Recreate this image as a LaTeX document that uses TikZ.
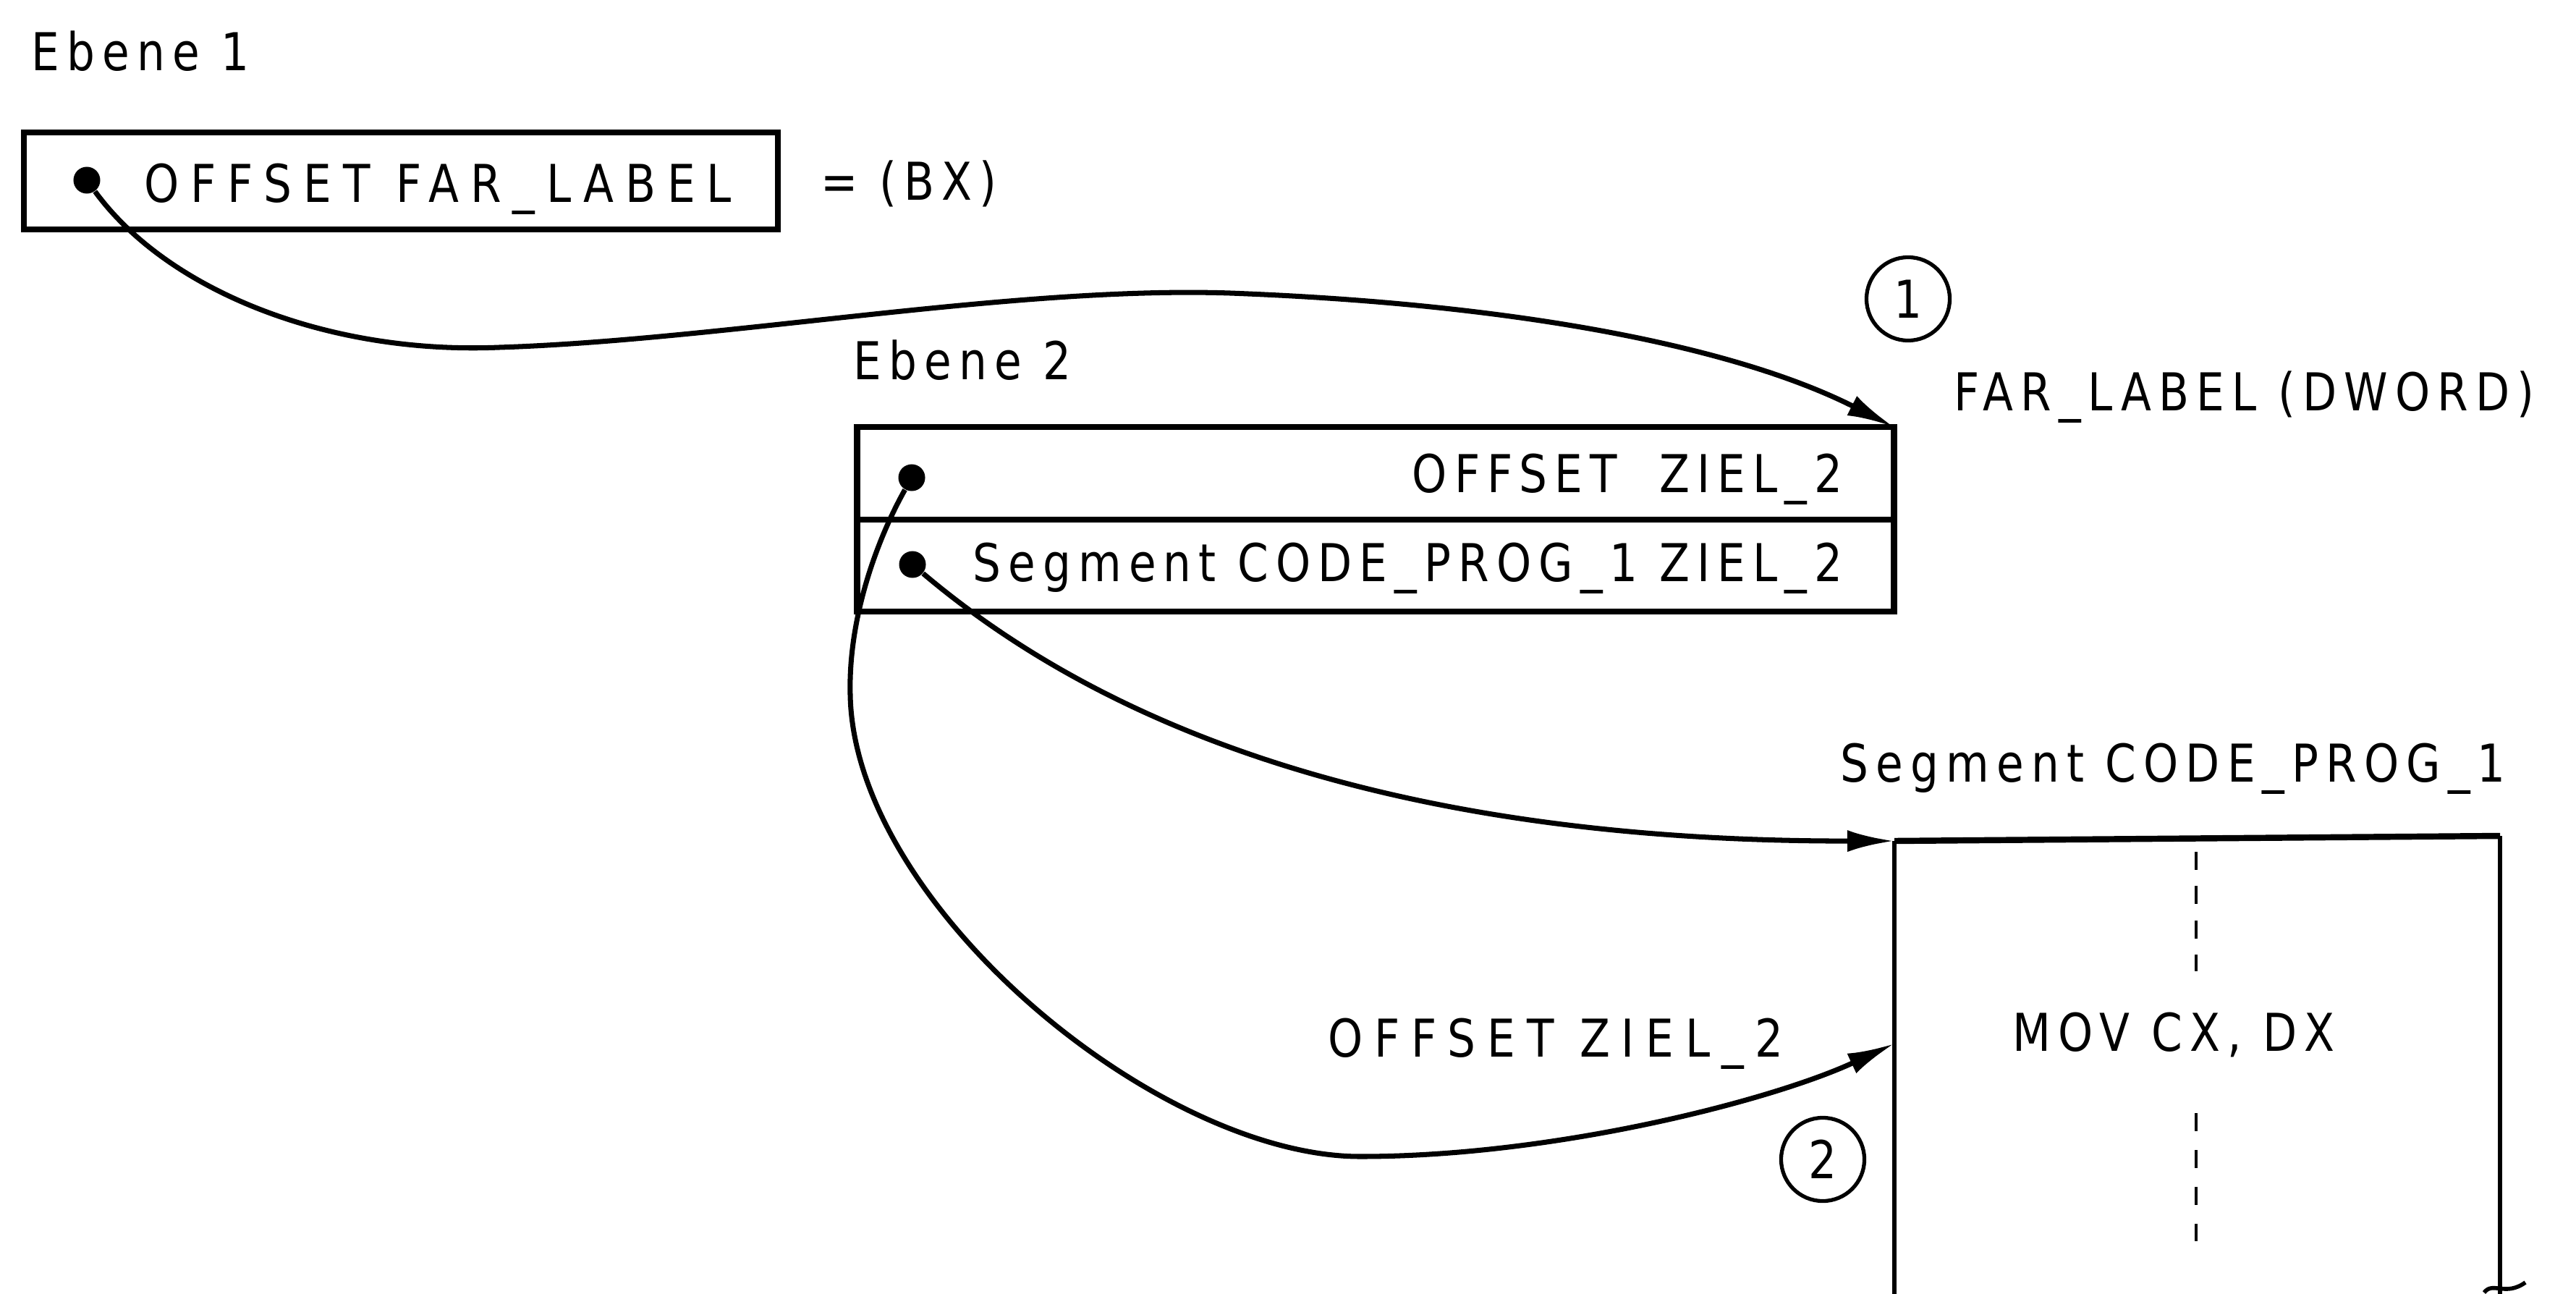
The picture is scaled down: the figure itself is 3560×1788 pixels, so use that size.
\documentclass[tikz,border=0pt]{standalone}
\usepackage{fontspec}
\setmainfont{DejaVu Sans}[FakeStretch=0.85, LetterSpace=14]
\newfontfamily\widefont{DejaVu Sans}[FakeStretch=0.85, LetterSpace=22]
\usetikzlibrary{arrows.meta, positioning, shapes}

\begin{document}
\begin{tikzpicture}[x=0.01cm, y=-0.01cm, node distance = 0pt]
\tikzstyle{cell} = [rectangle, draw, line width=2.4pt, inner sep=0pt, outer sep=0pt]
\tikzstyle{txt} = [inner sep=0pt, font=\fontsize{20.5}{24}\selectfont]
\tikzstyle{widetxt} = [inner sep=0pt, font=\widefont\fontsize{20.5}{24}\selectfont]
\tikzstyle{dot} = [circle, fill, inner sep=0pt, minimum size=3.7mm]
\tikzstyle{num} = [circle, draw, line width=1.5pt, inner sep=0pt, minimum size=1.15cm,
    font=\fontsize{20.5}{24}\selectfont]
\tikzstyle{line} = [draw, line width=2pt, -{Latex[length=6.5mm, width=3mm]}]
\useasboundingbox (0,0) rectangle (3560,1788);
    % Place nodes
    \node [txt, anchor=base west] (ebene1) at (43,98) {Ebene 1};
    \node [cell, minimum width=10.41cm, minimum height=1.34cm] (farbox) at (554,250) {};
    \node [dot] (fardot) at (120,249) {};
    \node [widetxt, anchor=base west] (fartext) at (199,280) {OFFSET FAR\_LABEL};
    \node [txt, anchor=base west] (bx) at (1134,277) {= (BX)};
    \node [num] (one) at (2637,413) {1};
    \node [txt, anchor=base west] (ebene2) at (1179,524) {Ebene 2};
    \node [txt, anchor=base west] (dword) at (2700,567) {FAR\_LABEL (DWORD)};
    \node [cell, minimum width=14.32cm, minimum height=1.28cm] (row1) at (1901,654) {};
    \node [cell, minimum width=14.32cm, minimum height=1.27cm, below=of row1] (row2) {};
    \node [dot] (zdot1) at (1260,660) {};
    \node [dot] (zdot2) at (1261,780) {};
    \node [txt, anchor=base east] (ziel1) at (2547,680) {OFFSET\hspace{0.4em} ZIEL\_2};
    \node [txt, anchor=base east] (ziel2) at (2547,803) {Segment CODE\_PROG\_1 ZIEL\_2};
    \node [txt, anchor=base west] (segtitle) at (2543,1080) {Segment CODE\_PROG\_1};
    \coordinate (codetl) at (2618,1162);
    \coordinate (codetr) at (3455,1155);
    \coordinate (codebl) at (2618,1788);
    \coordinate (codebr) at (3455,1788);
    \coordinate (codeoff) at (2618,1442);
    \node [txt, anchor=base west] (mov) at (2781,1452) {MOV CX, DX};
    \node [widetxt, anchor=base west] (ziel3) at (1835,1460) {OFFSET ZIEL\_2};
    \node [num] (two) at (2519,1602) {2};

%paths
    \draw [line width=2.4pt] (codetl) -- (codetr);
    \draw [line width=1.6pt] (codebl) -- (codetl);
    \draw [line width=1.6pt] (codetr) -- (codebr);
    \draw [line width=1.6pt] (3433,1786) .. controls (3445,1770) and (3462,1792) .. (3490,1772);
    \draw [line width=1.4pt, dash pattern=on 7pt off 6.5pt] (3035,1177) -- (3035,1342);
    \draw [line width=1.4pt, dash pattern=on 7pt off 7.5pt] (3035,1538) -- (3035,1715);
    \path [line] (fardot) .. controls (230,400) and (450,490) .. (690,480)
        .. controls (1000,470) and (1400,395) .. (1700,405)
        .. controls (2100,420) and (2400,480) .. (row1.north east);
    \path [line] (zdot2) .. controls (1480,965) and (1850,1163) .. (codetl);
    \path [line] (zdot1) .. controls (1215,740) and (1172,850) .. (1175,960)
        .. controls (1180,1250) and (1600,1598) .. (1880,1598)
        .. controls (2150,1598) and (2450,1520) .. (codeoff);

\end{tikzpicture}
\end{document}
